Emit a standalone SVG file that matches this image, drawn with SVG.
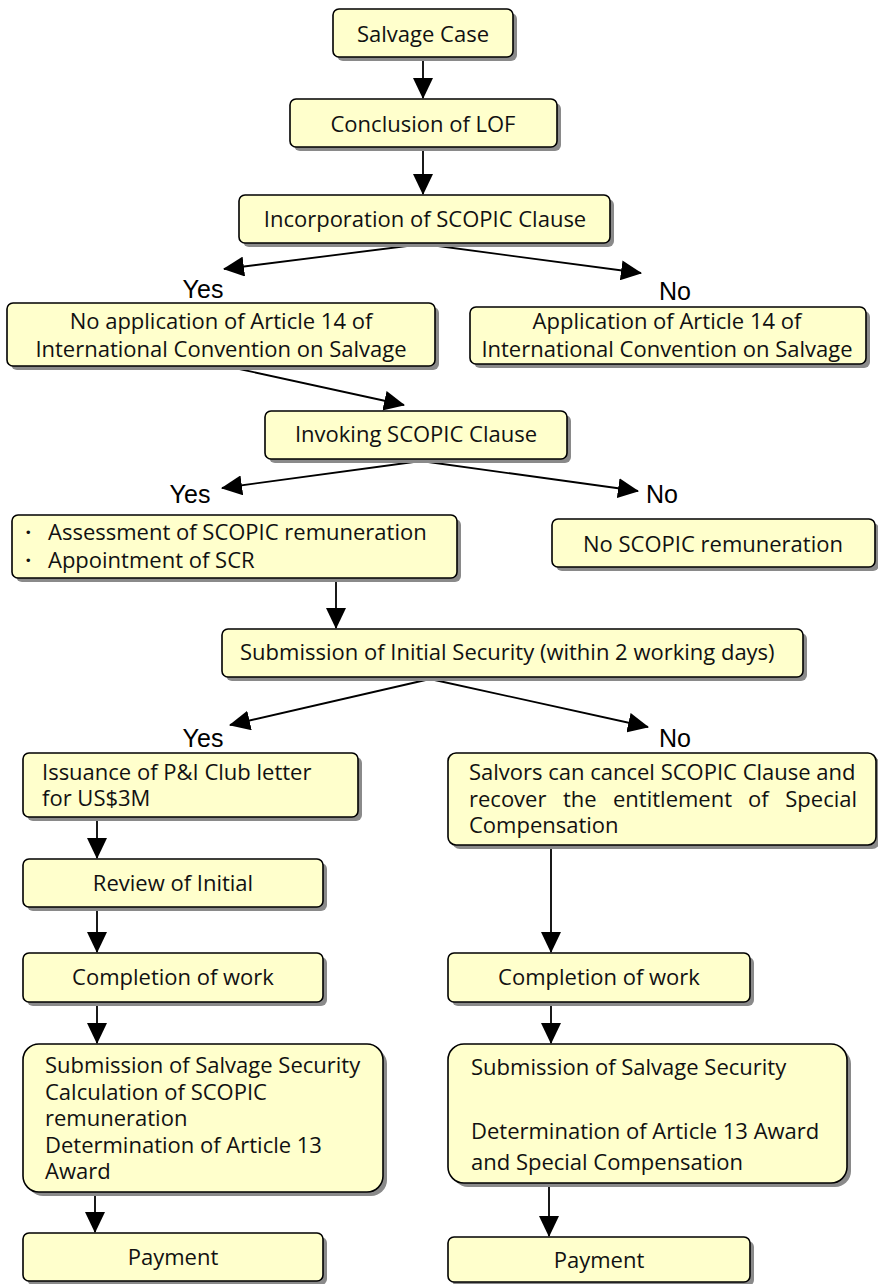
<svg xmlns="http://www.w3.org/2000/svg" width="878" height="1284" viewBox="0 0 878 1284">
<style>
.sh{fill:#8a8a8a;stroke:none}
.bx{fill:#ffffcc;stroke:#000;stroke-width:1.6}
.t{font-family:"Open Sans","Noto Sans",sans-serif;font-size:22px;fill:#111}
.c{text-anchor:middle}
.e{text-anchor:end}
.yn{font-family:"Liberation Sans",Arial,sans-serif;font-size:25px;fill:#000}
.ln{stroke:#000;stroke-width:1.8;fill:none;marker-end:url(#ah)}
</style>
<defs>
<marker id="ah" markerUnits="userSpaceOnUse" markerWidth="21" markerHeight="20" refX="20" refY="10" orient="auto" viewBox="0 0 21 20">
<path d="M0,0 L21,10 L0,20 z" fill="#000"/>
</marker>
</defs>
<rect width="878" height="1284" fill="#fff"/>

<g id="connectors">
<line class="ln" x1="423" y1="58" x2="423" y2="98"/>
<line class="ln" x1="423" y1="148" x2="423" y2="194"/>
<line class="ln" x1="423" y1="244" x2="224" y2="269"/>
<line class="ln" x1="423" y1="244" x2="641" y2="273"/>
<line class="ln" x1="230" y1="367" x2="404" y2="405"/>
<line class="ln" x1="421" y1="461" x2="222" y2="488"/>
<line class="ln" x1="421" y1="461" x2="638" y2="491"/>
<line class="ln" x1="336" y1="580" x2="336" y2="628"/>
<line class="ln" x1="430" y1="679" x2="230" y2="725"/>
<line class="ln" x1="430" y1="679" x2="648" y2="727"/>
<line class="ln" x1="97" y1="819" x2="97" y2="858"/>
<line class="ln" x1="97" y1="909" x2="97" y2="952"/>
<line class="ln" x1="97" y1="1004" x2="97" y2="1043"/>
<line class="ln" x1="95" y1="1194" x2="95" y2="1232"/>
<line class="ln" x1="551" y1="847" x2="551" y2="952"/>
<line class="ln" x1="551" y1="1004" x2="551" y2="1043"/>
<line class="ln" x1="549" y1="1185" x2="549" y2="1236"/>
</g>

<g id="labels">
<text class="yn c" x="203" y="298">Yes</text>
<text class="yn c" x="675" y="300">No</text>
<text class="yn c" x="190" y="503">Yes</text>
<text class="yn" x="646" y="503">No</text>
<text class="yn c" x="203" y="747">Yes</text>
<text class="yn c" x="675" y="747">No</text>
</g>

<g id="n1"><rect class="sh" x="337" y="13" width="180" height="48" rx="6"/><rect class="bx" x="333" y="9" width="180" height="48" rx="6"/><text class="t c" x="423" y="42">Salvage Case</text></g>
<g id="n2"><rect class="sh" x="294" y="103" width="267" height="48" rx="6"/><rect class="bx" x="290" y="99" width="267" height="48" rx="6"/><text class="t c" x="423" y="132">Conclusion of LOF</text></g>
<g id="n3"><rect class="sh" x="243" y="199" width="371" height="48" rx="6"/><rect class="bx" x="239" y="195" width="371" height="48" rx="6"/><text class="t c" x="425" y="227">Incorporation of SCOPIC Clause</text></g>
<g id="n4"><rect class="sh" x="11" y="307" width="428" height="63" rx="6"/><rect class="bx" x="7" y="303" width="428" height="63" rx="6"/><text class="t c" x="221" y="329">No application of Article 14 of</text><text class="t c" x="221" y="357">International Convention on Salvage</text></g>
<g id="n5"><rect class="sh" x="474" y="311" width="396" height="57" rx="6"/><rect class="bx" x="470" y="307" width="396" height="57" rx="6"/><text class="t c" x="667" y="329">Application of Article 14 of</text><text class="t c" x="667" y="357">International Convention on Salvage</text></g>
<g id="n6"><rect class="sh" x="269" y="415" width="302" height="48" rx="6"/><rect class="bx" x="265" y="411" width="302" height="48" rx="6"/><text class="t c" x="416" y="442">Invoking SCOPIC Clause</text></g>
<g id="n7"><rect class="sh" x="16" y="519" width="445" height="63" rx="6"/><rect class="bx" x="12" y="515" width="445" height="63" rx="6"/><text class="t" x="17" y="540">・</text><text class="t" x="48" y="540">Assessment of SCOPIC remuneration</text><text class="t" x="17" y="568">・</text><text class="t" x="48" y="568">Appointment of SCR</text></g>
<g id="n8"><rect class="sh" x="556" y="523" width="323" height="48" rx="6"/><rect class="bx" x="552" y="519" width="323" height="48" rx="6"/><text class="t c" x="713" y="552">No SCOPIC remuneration</text></g>
<g id="n9"><rect class="sh" x="226" y="633" width="581" height="48" rx="6"/><rect class="bx" x="222" y="629" width="581" height="48" rx="6"/><text class="t" x="240" y="660">Submission of Initial Security (within 2 working days)</text></g>
<g id="n10"><rect class="sh" x="27" y="757" width="335" height="64" rx="6"/><rect class="bx" x="23" y="753" width="335" height="64" rx="6"/><text class="t" x="42" y="780">Issuance of P&amp;I Club letter</text><text class="t" x="42" y="806">for US$3M</text></g>
<g id="n11"><rect class="sh" x="452" y="757" width="428" height="92" rx="8"/><rect class="bx" x="448" y="753" width="428" height="92" rx="8"/><text class="t" x="469" y="780">Salvors can cancel SCOPIC Clause and</text><text class="t" x="469" y="807">recover</text><text class="t" x="563" y="807">the</text><text class="t" x="613" y="807">entitlement</text><text class="t" x="748" y="807">of</text><text class="t e" x="857" y="807">Special</text><text class="t" x="469" y="833">Compensation</text></g>
<g id="n12"><rect class="sh" x="27" y="863" width="300" height="48" rx="6"/><rect class="bx" x="23" y="859" width="300" height="48" rx="6"/><text class="t c" x="173" y="891">Review of Initial</text></g>
<g id="n13"><rect class="sh" x="27" y="957" width="300" height="49" rx="6"/><rect class="bx" x="23" y="953" width="300" height="49" rx="6"/><text class="t c" x="173" y="985">Completion of work</text></g>
<g id="n14"><rect class="sh" x="452" y="957" width="302" height="49" rx="6"/><rect class="bx" x="448" y="953" width="302" height="49" rx="6"/><text class="t c" x="599" y="985">Completion of work</text></g>
<g id="n15"><rect class="sh" x="27" y="1048" width="360" height="148" rx="16"/><rect class="bx" x="23" y="1044" width="360" height="148" rx="16"/><text class="t" x="45" y="1073">Submission of Salvage Security</text><text class="t" x="45" y="1099.5">Calculation of SCOPIC</text><text class="t" x="45" y="1126">remuneration</text><text class="t" x="45" y="1152.5">Determination of Article 13</text><text class="t" x="45" y="1179">Award</text></g>
<g id="n16"><rect class="sh" x="452" y="1048" width="399" height="139" rx="16"/><rect class="bx" x="448" y="1044" width="399" height="139" rx="16"/><text class="t" x="471" y="1075">Submission of Salvage Security</text><text class="t" x="471" y="1139">Determination of Article 13 Award</text><text class="t" x="471" y="1170">and Special Compensation</text></g>
<g id="n17"><rect class="sh" x="27" y="1237" width="300" height="48" rx="6"/><rect class="bx" x="23" y="1233" width="300" height="48" rx="6"/><text class="t c" x="173" y="1265">Payment</text></g>
<g id="n18"><rect class="sh" x="452" y="1241" width="302" height="45" rx="6"/><rect class="bx" x="448" y="1237" width="302" height="45" rx="6"/><text class="t c" x="599" y="1268">Payment</text></g>
</svg>
